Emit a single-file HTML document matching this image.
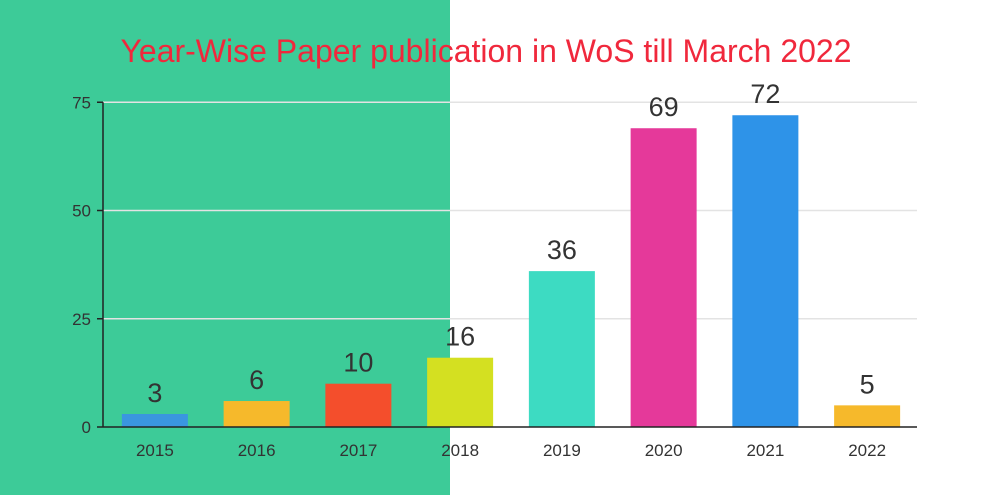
<!DOCTYPE html>
<html><head><meta charset="utf-8"><style>
body{margin:0;width:993px;height:495px;overflow:hidden;background:#fff;font-family:"Liberation Sans",sans-serif}
</style></head><body>
<svg id="chart" width="993" height="495" xmlns="http://www.w3.org/2000/svg">
<rect x="0" y="0" width="450" height="495" fill="#3dcb98"/>
<text x="486" y="62" text-anchor="middle" font-size="32" fill="#f0283c">Year-Wise Paper publication in WoS till March 2022</text>
<g id="grid"></g><g id="bars"></g><g id="axes"></g>
</svg>
<script>
const categories=["2015","2016","2017","2018","2019","2020","2021","2022"];
const values=[3,6,10,16,36,69,72,5];
const colors=["#3a96e0","#f6b92b","#f44e2c","#d4e021","#3ddbc2","#e5399a","#2e93e8","#f6b92b"];
const yTicks=[0,25,50,75];
const NS="http://www.w3.org/2000/svg";
const x0=103,x1=917,y0=427,pxPerUnit=4.33;
const band=(x1-x0)/categories.length,bw=66;
const y=v=>y0-v*pxPerUnit;
const xc=i=>x0+band*(i+0.5)+1;
function mk(t,a,p,txt){const e=document.createElementNS(NS,t);for(const k in a)e.setAttribute(k,a[k]);if(txt!==undefined)e.textContent=txt;p.appendChild(e);return e;}
const grid=document.getElementById('grid'),bars=document.getElementById('bars'),axes=document.getElementById('axes');
yTicks.forEach(t=>{
 if(t>0){const g=mk('line',{x1:x0,x2:x1,y1:y(t),y2:y(t),stroke:'#e3e3e3','stroke-width':1.5},grid);
 
 }
 const tk=mk('line',{x1:x0-6,x2:x0,y1:y(t),y2:y(t),stroke:'#222','stroke-width':1.5},axes);
 
 
 const l=mk('text',{x:x0-12,y:y(t)+6,'text-anchor':'end','font-size':17,fill:'#333'},axes,String(t));
 
 
});
categories.forEach((c,i)=>{
 const r=mk('rect',{x:xc(i)-bw/2,y:y(values[i]),width:bw,height:y0-y(values[i]),fill:colors[i]},bars);
 
 
 const v=mk('text',{x:xc(i),y:y(values[i])-12,'text-anchor':'middle','font-size':27,fill:'#333'},bars,String(values[i]));
 
 
 const l=mk('text',{x:xc(i),y:y0+29,'text-anchor':'middle','font-size':17,fill:'#333'},axes,c);
 
 
});
const xa=mk('line',{x1:x0,x2:x1,y1:y0,y2:y0,stroke:'#222','stroke-width':1.5},axes);


const ya=mk('line',{x1:x0,x2:x0,y1:y(75),y2:y0,stroke:'#222','stroke-width':1.5},axes);


</script>
</body></html>
